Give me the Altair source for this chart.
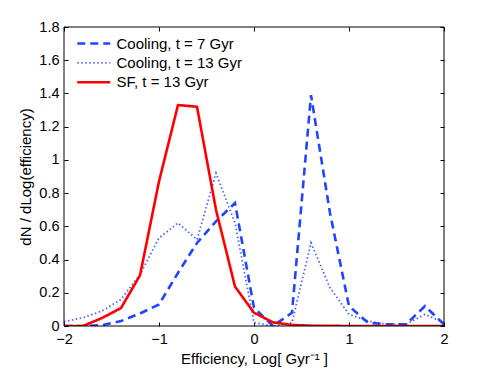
import altair as alt
import pandas as pd

x_vals = [-2.0, -1.8, -1.6, -1.4, -1.2, -1.0, -0.8, -0.6, -0.4, -0.2, 0.0,
          0.2, 0.4, 0.6, 0.8, 1.0, 1.2, 1.4, 1.6, 1.8, 2.0]
cool7 = [0.0, 0.0, 0.005, 0.03, 0.075, 0.13, 0.32, 0.50, 0.63, 0.74, 0.11,
         0.0, 0.08, 1.39, 0.68, 0.12, 0.02, 0.01, 0.01, 0.12, 0.01]
cool13 = [0.026, 0.05, 0.09, 0.16, 0.31, 0.53, 0.62, 0.52, 0.92, 0.62, 0.02,
          0.0, 0.02, 0.50, 0.23, 0.07, 0.03, 0.01, 0.01, 0.07, 0.02]
sf13 = [0.0, 0.0, 0.048, 0.108, 0.305, 0.87, 1.33, 1.32, 0.70, 0.237, 0.08,
        0.022, 0.006, 0.002, 0.001, 0.0, 0.0, 0.0, 0.0, 0.0, 0.0]
series = ["Cooling, t = 7 Gyr", "Cooling, t = 13 Gyr", "SF, t = 13 Gyr"]
colors = ["#2244ff", "#4a66ff", "#ff0000"]
dashes = [[8, 5], [1.5, 2.5], [1, 0]]
widths = [2.6, 1.8, 2.6]
x_ticks = [-2, -1, 0, 1, 2]
y_ticks = [0, 0.2, 0.4, 0.6, 0.8, 1.0, 1.2, 1.4, 1.6, 1.8]

rows = []
for name, vals in zip(series, [cool7, cool13, sf13]):
    for xv, yv in zip(x_vals, vals):
        rows.append({"x": xv, "y": yv, "series": name})
df = pd.DataFrame(rows)

W, H = 380, 299
FONT = "Liberation Sans"
TK = 4

xscale = alt.Scale(domain=[-2, 2], nice=False)
yscale = alt.Scale(domain=[0, 1.8], nice=False)

common_axis = dict(grid=False, domain=False, ticks=True, tickSize=TK, offset=-TK,
                   tickColor="black", labelFlush=False, labelOverlap=False)

x_axis = alt.Axis(title="Efficiency, Log[ Gyr⁻¹ ]", values=x_ticks, format="d",
                  labelPadding=6, titlePadding=6, **common_axis)
y_axis = alt.Axis(title="dN / dLog(efficiency)", values=y_ticks, format="~g",
                  labelPadding=5, titlePadding=5, **common_axis)

legend = alt.Legend(title=None, orient="none", legendX=22.25, legendY=9,
                    symbolType="M-3.3,0H3.3", symbolSize=100,
                    labelFontSize=15, labelFont=FONT, labelOffset=15.25,
                    rowPadding=3.4, padding=0, labelLimit=300)


def enc(with_axes):
    return dict(
        x=alt.X("x:Q", scale=xscale, axis=x_axis if with_axes else None),
        y=alt.Y("y:Q", scale=yscale, axis=y_axis if with_axes else None),
        color=alt.Color("series:N", scale=alt.Scale(domain=series, range=colors),
                        legend=legend),
        strokeDash=alt.StrokeDash("series:N", scale=alt.Scale(domain=series, range=dashes)),
        strokeWidth=alt.StrokeWidth("series:N",
                                    scale=alt.Scale(type="ordinal", domain=series, range=widths)),
    )


layers = []
for i, name in enumerate([series[1], series[0], series[2]]):
    layers.append(
        alt.Chart(df).transform_filter(alt.datum.series == name)
        .mark_line(clip=True).encode(**enc(i == 0))
    )

# top / right axes with inward ticks only
ghost = alt.Chart(df).mark_line(opacity=0).encode(
    x=alt.X("x:Q", scale=xscale,
            axis=alt.Axis(orient="top", title="", labels=False, values=x_ticks, **common_axis)),
    y=alt.Y("y:Q", scale=yscale,
            axis=alt.Axis(orient="right", title="", labels=False, values=y_ticks, **common_axis)),
    detail="series:N",
)

frame = alt.Chart(pd.DataFrame({"f": [0]})).mark_rect(
    fillOpacity=0, stroke="black", strokeWidth=1
).encode(x=alt.value(0), x2=alt.value(W), y=alt.value(0), y2=alt.value(H))

chart = alt.layer(*layers, ghost, frame).resolve_axis(
    x="independent", y="independent"
).properties(
    width=W, height=H,
    autosize=alt.AutoSizeParams(type="none"),
    padding={"left": 56, "top": 19, "right": 39, "bottom": 42},
).configure_view(stroke=None).configure_axis(
    labelFont=FONT, titleFont=FONT, labelFontSize=14.5, titleFontSize=15,
    titleFontWeight="normal", labelColor="black", titleColor="black"
)

chart.save("out.html", embed_options={"renderer": "svg", "actions": False})
